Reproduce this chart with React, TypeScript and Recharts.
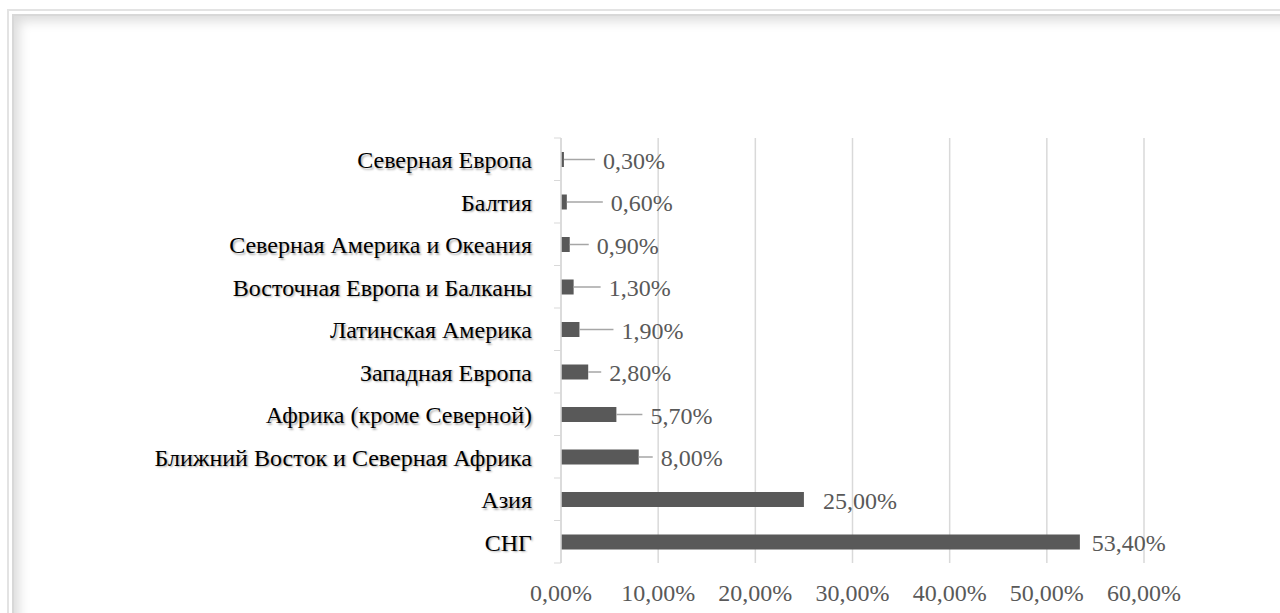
import React from 'react';
import { BarChart, Bar, XAxis, YAxis, CartesianGrid, LabelList } from 'recharts';

const categories = [
  'Северная Европа',
  'Балтия',
  'Северная Америка и Океания',
  'Восточная Европа и Балканы',
  'Латинская Америка',
  'Западная Европа',
  'Африка (кроме Северной)',
  'Ближний Восток и Северная Африка',
  'Азия',
  'СНГ',
];
const shares = [0.3, 0.6, 0.9, 1.3, 1.9, 2.8, 5.7, 8.0, 25.0, 53.4];
const xTicks = [0, 10, 20, 30, 40, 50, 60];
// label placement (px from bar end to label text start), as in the Excel chart
const labelOffsets = [39, 44, 27, 35, 42, 21, 34, 22, 19, 12];

const data = categories.map((name, i) => ({ name, value: shares[i] }));

const fmt = (v: number) => v.toFixed(2).replace('.', ',') + '%';

const FONT = "'Liberation Serif', 'Times New Roman', Tinos, 'DejaVu Serif', serif";
const FS = 24;
const CHART_W = 1280;
const CHART_H = 613;
const MARGIN = { top: 138, right: 136, bottom: 0, left: 0 };
const X_AXIS_H = 50;
const PLOT_H = CHART_H - MARGIN.top - MARGIN.bottom - X_AXIS_H;
const HALF_BAND = PLOT_H / categories.length / 2;

const YTick = (props: any) => {
  const { x, y, payload, index } = props;
  const axisX = x + 8;
  return (
    <g>
      <line x1={axisX - 7} x2={axisX} y1={y - HALF_BAND} y2={y - HALF_BAND} stroke="#d9d9d9" strokeWidth={1} />
      {index === categories.length - 1 && (
        <line x1={axisX - 7} x2={axisX} y1={y + HALF_BAND} y2={y + HALF_BAND} stroke="#d9d9d9" strokeWidth={1} />
      )}
      <text
        x={x - 21}
        y={y + 9}
        textAnchor="end"
        fill="#000"
        style={{ fontFamily: FONT, fontSize: FS, textShadow: '1.5px 1.5px 2px rgba(0,0,0,0.32)' }}
      >
        {payload.value}
      </text>
    </g>
  );
};

const XTick = (props: any) => {
  const { x, y, payload } = props;
  return (
    <text x={x} y={y + 30} textAnchor="middle" fill="#595959" style={{ fontFamily: FONT, fontSize: FS }}>
      {fmt(payload.value)}
    </text>
  );
};

const DataLabel = (props: any) => {
  const { x, y, width, height, value, index } = props;
  const end = x + width;
  const cy = y + height / 2;
  const off = labelOffsets[index] ?? 12;
  const tx = end + off;
  return (
    <g>
      {off > 20 && (
        <line x1={end} x2={tx - 8} y1={cy} y2={cy} stroke="#a6a6a6" strokeWidth={1.5} />
      )}
      <text x={tx} y={cy + 9} textAnchor="start" fill="#595959" style={{ fontFamily: FONT, fontSize: FS }}>
        {fmt(value)}
      </text>
    </g>
  );
};

export default function App() {
  return (
    <div
      style={{
        position: 'absolute',
        left: 0,
        top: 0,
        width: CHART_W,
        height: CHART_H,
        overflow: 'hidden',
        background: '#fff',
        fontFamily: FONT,
      }}
    >
      <div
        style={{
          position: 'absolute',
          left: 7,
          top: 9,
          width: 1300,
          height: 700,
          border: '2px solid #e3e3e3',
          boxSizing: 'border-box',
        }}
      />
      <div
        style={{
          position: 'absolute',
          left: 12,
          top: 14,
          width: 1300,
          height: 700,
          border: '2px solid #d8d8d8',
          boxSizing: 'border-box',
          boxShadow: 'inset 8px 8px 12px -3px rgba(0,0,0,0.14)',
        }}
      />
      <div style={{ position: 'absolute', left: 0, top: 0 }}>
        <BarChart width={CHART_W} height={CHART_H} data={data} layout="vertical" margin={MARGIN}>
          <CartesianGrid horizontal={false} vertical={true} stroke="#d9d9d9" strokeWidth={1.5} />
          <XAxis
            type="number"
            domain={[0, 60]}
            ticks={xTicks}
            axisLine={false}
            tickLine={false}
            height={X_AXIS_H}
            tick={<XTick />}
            interval={0}
          />
          <YAxis
            type="category"
            dataKey="name"
            width={561}
            axisLine={{ stroke: '#d9d9d9', strokeWidth: 1.5 }}
            tickLine={false}
            tick={<YTick />}
            interval={0}
          />
          <Bar dataKey="value" fill="#595959" barSize={15} isAnimationActive={false}>
            <LabelList dataKey="value" content={<DataLabel />} />
          </Bar>
        </BarChart>
      </div>
    </div>
  );
}
